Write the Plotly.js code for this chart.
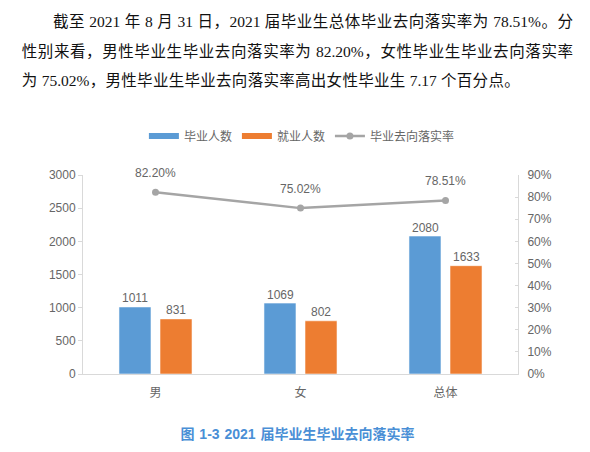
<!DOCTYPE html>
<html lang="zh-CN">
<head>
<meta charset="utf-8">
<script src="https://cdn.plot.ly/plotly-3.0.1.min.js"></script>
<style>
  html, body { margin: 0; padding: 0; background: #fff; }
  #wrap { position: relative; width: 590px; height: 452px; overflow: hidden; }
  #chart { position: absolute; left: 0; top: 0; width: 590px; height: 452px; }
  .ln {
    position: absolute; white-space: nowrap; color: #111;
    font-family: "Liberation Serif", "Noto Sans CJK SC", serif;
    font-size: 15.5px; line-height: 29.5px; height: 29.5px;
  }
  .just { text-align: justify; text-align-last: justify; }
  #cap {
    position: absolute; left: 0; top: 424px; width: 595px; text-align: center;
    font-family: "Liberation Sans", "Noto Sans CJK SC", sans-serif;
    font-weight: bold; font-size: 14px; line-height: 20px; color: #4a8fd6;
    word-spacing: 1px;
  }
</style>
</head>
<body>
<div id="wrap">
  <div id="chart"></div>
  <div class="ln just" style="left:53px;top:7px;width:520px">截至 2021 年 8 月 31 日，2021 届毕业生总体毕业去向落实率为 78.51%。分</div>
  <div class="ln just" style="left:21.7px;top:36.7px;width:551.3px">性别来看，男性毕业生毕业去向落实率为 82.20%，女性毕业生毕业去向落实率</div>
  <div class="ln just" style="left:21.7px;top:66px;width:498px">为 75.02%，男性毕业生毕业去向落实率高出女性毕业生 7.17 个百分点。</div>
  <div id="cap">图 1-3 2021 届毕业生毕业去向落实率</div>
</div>
<script>
'use strict';

// data
const categories = ['男', '女', '总体'];
const graduates = [1011, 1069, 2080];
const employed = [831, 802, 1633];
const rate = [0.8220, 0.7502, 0.7851];
const seriesNames = ['毕业人数', '就业人数', '毕业去向落实率'];

const BLUE = '#5B9BD5', ORANGE = '#ED7D31', GREY = '#A5A5A5';
const TXT = '#666666', AXIS = '#d9d9d9';
const FONT = '"Liberation Sans", "Noto Sans CJK SC", sans-serif';

const barLine = { color: 'rgba(255,255,255,0.55)', width: 1 };

const traces = [
  { type: 'bar', x: categories, y: graduates, name: seriesNames[0], marker: { color: BLUE, line: barLine }, showlegend: false, hoverinfo: 'x+y' },
  { type: 'bar', x: categories, y: employed, name: seriesNames[1], marker: { color: ORANGE, line: barLine }, showlegend: false, hoverinfo: 'x+y' },
  // legend-only swatches so the legend shows flat bars like the original
  { type: 'scatter', x: [null], y: [null], mode: 'lines', name: seriesNames[0], line: { color: BLUE, width: 6 }, hoverinfo: 'skip' },
  { type: 'scatter', x: [null], y: [null], mode: 'lines', name: seriesNames[1], line: { color: ORANGE, width: 6 }, hoverinfo: 'skip' },
  { type: 'scatter', x: categories, y: rate, yaxis: 'y2', name: seriesNames[2], mode: 'lines+markers',
    line: { color: GREY, width: 2.5 }, marker: { color: GREY, size: 7 }, cliponaxis: false, hoverinfo: 'x+y' }
];

// data labels
const annotations = [];
const lblFont = { family: FONT, size: 12, color: TXT };
categories.forEach((c, i) => {
  annotations.push({ x: c, y: graduates[i], xref: 'x', yref: 'y', text: String(graduates[i]), showarrow: false, xshift: -20.5, yshift: 8.5, yanchor: 'middle', font: lblFont });
  annotations.push({ x: c, y: employed[i], xref: 'x', yref: 'y', text: String(employed[i]), showarrow: false, xshift: 20.5, yshift: 8.5, yanchor: 'middle', font: lblFont });
  annotations.push({ x: c, y: rate[i], xref: 'x', yref: 'y2', text: (rate[i] * 100).toFixed(2) + '%', showarrow: false, yshift: 19.5, yanchor: 'middle', font: lblFont });
});

const layout = {
  width: 590, height: 452,
  margin: { l: 82.5, r: 72.3, t: 175, b: 78 },
  paper_bgcolor: 'rgba(0,0,0,0)', plot_bgcolor: 'rgba(0,0,0,0)',
  font: { family: FONT, size: 12, color: TXT },
  barmode: 'group', bargap: 0.434, bargroupgap: 0.22,
  showlegend: true,
  legend: { orientation: 'h', x: 0.14, xanchor: 'left', y: 1.196, yanchor: 'middle', font: { family: FONT, size: 12, color: TXT }, itemwidth: 30, bgcolor: 'rgba(0,0,0,0)' },
  xaxis: { type: 'category', showline: true, linecolor: AXIS, linewidth: 1, ticks: '', showgrid: false, zeroline: false, ticklabelstandoff: 8, tickfont: { size: 12, color: TXT } },
  yaxis: { range: [0, 3000], dtick: 500, showline: true, linecolor: AXIS, linewidth: 1, ticks: 'outside', ticklen: 4, tickcolor: AXIS, showgrid: false, zeroline: false, tickfont: { size: 12, color: TXT } },
  yaxis2: { overlaying: 'y', side: 'right', range: [0, 0.9], dtick: 0.1, tickformat: '.0%', showline: true, linecolor: AXIS, linewidth: 1, ticks: 'inside', ticklen: 3, tickcolor: AXIS, showgrid: false, zeroline: false, ticklabelstandoff: 6, tickfont: { size: 12, color: TXT } },
  annotations
};

Plotly.newPlot('chart', traces, layout, { displayModeBar: false, responsive: false });
</script>
</body>
</html>
